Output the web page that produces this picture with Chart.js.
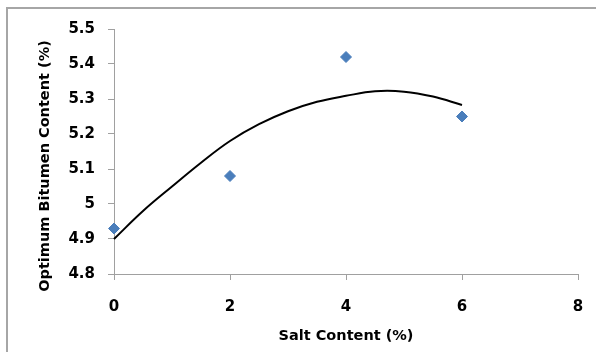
<!DOCTYPE html>
<html>
<head>
<meta charset="utf-8">
<script src="https://cdn.jsdelivr.net/npm/chart.js@4/dist/chart.umd.min.js"></script>
<style>
  html, body { margin: 0; padding: 0; background: #fff; overflow: hidden; }
  #wrap { position: relative; width: 596px; height: 352px; }
  #frame { position: absolute; left: 6px; top: 7px; width: 700px; height: 500px;
           border: 2px solid #a6a6a6; pointer-events: none; }
  canvas { position: absolute; left: 0; top: 0; }
</style>
</head>
<body>
<div id="wrap">
  <canvas id="c" width="596" height="352"></canvas>
  <div id="frame"></div>
</div>
<script>
// Measured data points
const saltContent = [0, 2, 4, 6];
const optimumBitumen = [4.93, 5.08, 5.42, 5.25];

// Trend curve
const trendX = [0, 0.5, 1, 1.5, 2, 2.5, 3, 3.5, 4, 4.5, 5, 5.5, 6];
const trendY = [4.90, 4.98, 5.05, 5.118, 5.18, 5.228, 5.265, 5.292, 5.309, 5.322, 5.321, 5.307, 5.283];

// Axis ticks
const xTickValues = [0, 2, 4, 6, 8];
const xTickLabels = ['0', '2', '4', '6', '8'];
const yTickValues = [4.8, 4.9, 5.0, 5.1, 5.2, 5.3, 5.4, 5.5];
const yTickLabels = ['4.8', '4.9', '5', '5.1', '5.2', '5.3', '5.4', '5.5'];

const xTitle = 'Salt Content (%)';
const yTitle = 'Optimum Bitumen Content (%)';

const FONT = '"DejaVu Sans", sans-serif';
const AXIS_GRAY = '#a0a0a0';

const yTitlePlugin = {
  id: 'yTitle',
  afterDraw(chart) {
    const ctx = chart.ctx;
    ctx.save();
    ctx.translate(45, 166);
    ctx.rotate(-Math.PI / 2);
    ctx.font = 'bold 14.5px ' + FONT;
    ctx.fillStyle = '#000';
    ctx.textAlign = 'center';
    ctx.textBaseline = 'middle';
    ctx.fillText(yTitle, 0, 0);
    ctx.restore();
  }
};

new Chart(document.getElementById('c'), {
  type: 'scatter',
  data: {
    datasets: [
      {
        label: 'Trend',
        data: trendX.map((x, i) => ({ x: x, y: trendY[i] })),
        showLine: true,
        borderColor: '#000',
        borderWidth: 2,
        pointRadius: 0,
        tension: 0.4,
        fill: false,
        clip: false,
        order: 2
      },
      {
        label: 'Optimum bitumen',
        data: saltContent.map((x, i) => ({ x: x, y: optimumBitumen[i] })),
        pointStyle: 'rectRot',
        pointRadius: 5.5,
        backgroundColor: '#4a7ebb',
        borderColor: '#4a7ebb',
        borderWidth: 1,
        showLine: false,
        clip: false,
        order: 1
      }
    ]
  },
  options: {
    responsive: false,
    animation: false,
    devicePixelRatio: 1,
    layout: { padding: { left: 0, right: 18, top: 29, bottom: 0 } },
    plugins: { legend: { display: false }, tooltip: { enabled: false } },
    scales: {
      x: {
        type: 'linear',
        min: 0, max: 8,
        afterBuildTicks(scale) { scale.ticks = xTickValues.map(v => ({ value: v })); },
        afterFit(scale) { scale.height = 78; },
        ticks: {
          callback: (v, i) => xTickLabels[i],
          font: { family: FONT, size: 15, weight: 'bold', lineHeight: 2.0 },
          color: '#000',
          padding: 12,
          maxRotation: 0
        },
        grid: { drawOnChartArea: false, drawTicks: true, tickLength: 6, color: AXIS_GRAY },
        border: { color: AXIS_GRAY, width: 1 },
        title: {
          display: true,
          text: xTitle,
          font: { family: FONT, size: 14.5, weight: 'bold' },
          color: '#000',
          padding: { top: 0, bottom: 7 }
        }
      },
      y: {
        type: 'linear',
        min: 4.8, max: 5.5,
        afterBuildTicks(scale) { scale.ticks = yTickValues.map(v => ({ value: v })); },
        afterFit(scale) { scale.width = 114; },
        ticks: {
          callback: (v, i) => yTickLabels[i],
          font: { family: FONT, size: 15, weight: 'bold' },
          color: '#000',
          padding: 13
        },
        grid: { drawOnChartArea: false, drawTicks: true, tickLength: 6, color: AXIS_GRAY },
        border: { color: AXIS_GRAY, width: 1 }
      }
    }
  },
  plugins: [yTitlePlugin]
});
</script>
</body>
</html>
